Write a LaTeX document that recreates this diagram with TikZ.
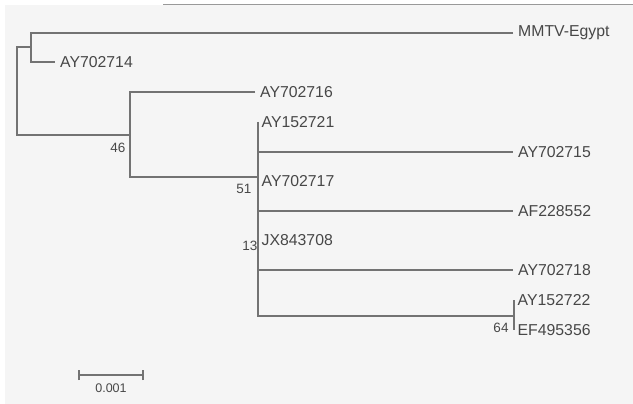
\documentclass[tikz,border=0pt]{standalone}
\usepackage{fontspec}
\setmainfont{Liberation Sans}
\begin{document}
\begin{tikzpicture}[x=1pt,y=-1pt,
  branch/.style={draw=black!55, line width=1.6pt},
  taxon/.style={anchor=west, inner xsep=5pt, inner ysep=0pt, text=black!72,
    font=\fontsize{15.8}{16}\selectfont},
  tip/.style={taxon, inner xsep=3.5pt},
  support/.style={inner sep=0pt, text=black!72, font=\fontsize{13.5}{14}\selectfont},
  scalelbl/.style={inner sep=0pt, text=black!72, font=\fontsize{12.5}{13}\selectfont}]
  % canvas
  \useasboundingbox (0,0) rectangle (633,404);
  \fill[white] (0,0) rectangle (633,404);
  \fill[black!4] (5,5) rectangle (633,404);
  \draw[black!40, line width=1pt] (163,5) -- (633,5);

  % internal nodes
  \coordinate (root) at (17,91);
  \coordinate (n1) at (31,47);
  \coordinate (n46) at (130,135);
  \coordinate (n51) at (258,177);
  \coordinate (n64) at (514,316);

  % taxa
  \node[taxon] (mmtv) at (513,33) {MMTV-Egypt};
  \node[taxon] (a714) at (55,62) {AY702714};
  \node[taxon] (a716) at (255,92) {AY702716};
  \node[tip] (a721) at (258,122) {AY152721};
  \node[taxon] (a715) at (513,152) {AY702715};
  \node[tip] (a717) at (258,181) {AY702717};
  \node[taxon] (a552) at (513,211) {AF228552};
  \node[tip] (jx) at (258,240) {JX843708};
  \node[taxon] (a718) at (513,270) {AY702718};
  \node[tip] (a722) at (514,300) {AY152722};
  \node[tip] (e356) at (514,330) {EF495356};

  % branches
  \draw[branch] (mmtv.west) -| (n1) |- (a714.west);
  \draw[branch] (n1) -| (root) |- (n46);
  \draw[branch] (a716.west) -| (n46) |- (n51);
  \draw[branch] (a721.west) |- (n64);
  \draw[branch] (n51 |- a715.west) -- (a715.west);
  \draw[branch] (n51 |- a552.west) -- (a552.west);
  \draw[branch] (n51 |- a718.west) -- (a718.west);
  \draw[branch] (a722.west) -- (e356.west);

  % bootstrap values
  \node[support] (b46) at (118,148) {46};
  \node[support] (b51) at (244,189) {51};
  \node[support] (b13) at (250,246) {13};
  \node[support] (b64) at (501,328) {64};

  % scale bar
  \coordinate (sbl) at (79,375);
  \coordinate (sbr) at (143,375);
  \draw[branch, line width=1.4pt] (sbl) -- (sbr);
  \draw[branch, line width=1.4pt] ([yshift=-5pt]sbl) -- ([yshift=5pt]sbl);
  \draw[branch, line width=1.4pt] ([yshift=-5pt]sbr) -- ([yshift=5pt]sbr);
  \node[scalelbl] (sb) at (111,388) {0.001};
\end{tikzpicture}
\end{document}
